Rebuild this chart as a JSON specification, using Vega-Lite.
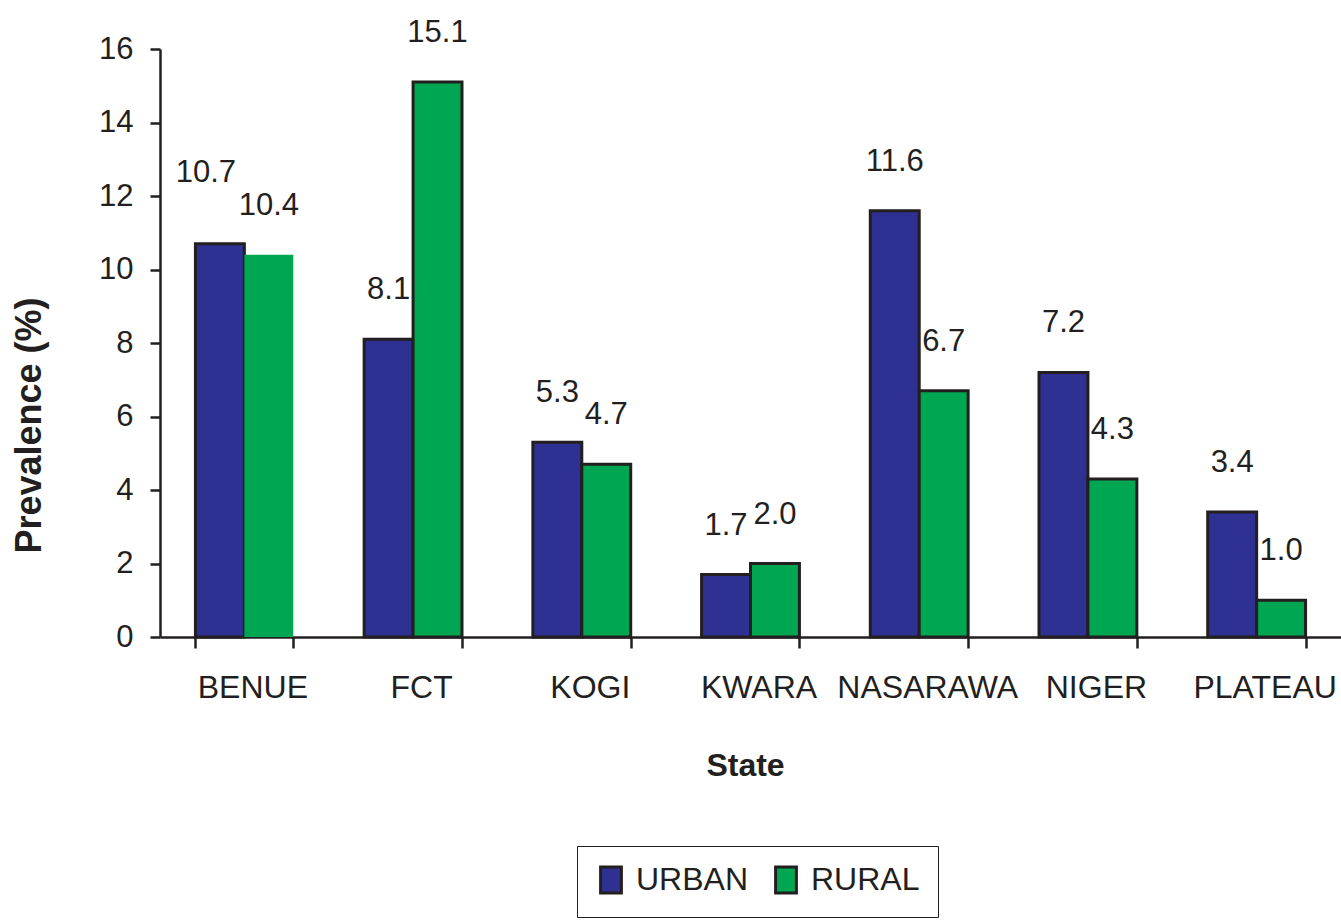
{
  "$schema": "https://vega.github.io/schema/vega-lite/v6.json",
  "width": 1181,
  "height": 588,
  "autosize": {"type": "none"},
  "padding": {"left": 160, "top": 49, "right": 0, "bottom": 283},
  "background": "white",
  "config": {
    "view": {"stroke": null},
    "axis": {"domainColor": "#231F20", "tickColor": "#231F20", "labelColor": "#231F20", "titleColor": "#231F20", "domainWidth": 2.5, "tickWidth": 2.5, "grid": false}
  },
  "data": {
    "values": [
      {"state": "BENUE", "area": "URBAN", "value": 10.7},
      {"state": "BENUE", "area": "RURAL", "value": 10.4},
      {"state": "FCT", "area": "URBAN", "value": 8.1},
      {"state": "FCT", "area": "RURAL", "value": 15.1},
      {"state": "KOGI", "area": "URBAN", "value": 5.3},
      {"state": "KOGI", "area": "RURAL", "value": 4.7},
      {"state": "KWARA", "area": "URBAN", "value": 1.7},
      {"state": "KWARA", "area": "RURAL", "value": 2.0},
      {"state": "NASARAWA", "area": "URBAN", "value": 11.6},
      {"state": "NASARAWA", "area": "RURAL", "value": 6.7},
      {"state": "NIGER", "area": "URBAN", "value": 7.2},
      {"state": "NIGER", "area": "RURAL", "value": 4.3},
      {"state": "PLATEAU", "area": "URBAN", "value": 3.4},
      {"state": "PLATEAU", "area": "RURAL", "value": 1.0}
    ]
  },
  "encoding": {
    "x": {
      "field": "state", "type": "nominal", "sort": null,
      "scale": {"paddingInner": 0.42, "paddingOuter": 0.21},
      "axis": {
        "title": "State", "labelAngle": 0, "tickBand": "extent", "tickSize": 11, "labelLimit": 0, "labelOffset": 8,
        "labelFont": "Liberation Sans", "labelFontSize": 32, "labelPadding": 24,
        "titleFont": "Liberation Sans", "titleFontSize": 32, "titleFontWeight": "bold",
        "titleY": 138, "titleBaseline": "alphabetic", "titleX": 585
      }
    },
    "xOffset": {"field": "area", "type": "nominal", "sort": ["URBAN", "RURAL"], "scale": {"paddingInner": 0, "paddingOuter": 0}},
    "y": {
      "field": "value", "type": "quantitative",
      "scale": {"domain": [0, 16], "nice": false},
      "axis": {
        "title": "Prevalence (%)", "values": [0, 2, 4, 6, 8, 10, 12, 14, 16], "tickSize": 10, "labelPadding": 17,
        "labelFont": "Liberation Sans", "labelFontSize": 31,
        "titleFont": "Liberation Sans", "titleFontSize": 36, "titleFontWeight": "bold",
        "titleX": -131, "titleY": 376, "titleBaseline": "middle", "titleAlign": "center", "titleAngle": -90
      }
    }
  },
  "layer": [
    {
      "mark": {"type": "bar", "stroke": "#231F20"},
      "encoding": {
        "color": {
          "field": "area", "type": "nominal", "sort": ["URBAN", "RURAL"],
          "scale": {"domain": ["URBAN", "RURAL"], "range": ["#2E3192", "#00A651"]},
          "legend": {
            "title": null, "orient": "none", "direction": "horizontal", "legendX": 417, "legendY": 797,
            "strokeColor": "#231F20", "padding": 18, "symbolType": "M-0.8,-1H0.8V1H-0.8Z", "symbolSize": 676,
            "symbolStrokeColor": "#231F20", "symbolStrokeWidth": 3, "symbolOpacity": 1,
            "labelFont": "Liberation Sans", "labelFontSize": 32, "labelColor": "#231F20",
            "labelOffset": 9, "columnPadding": 20
          }
        },
        "strokeWidth": {"condition": {"test": "datum.state === 'BENUE' && datum.area === 'RURAL'", "value": 0}, "value": 3}
      }
    },
    {
      "transform": [{"filter": "!(datum.state === 'BENUE' && datum.area === 'URBAN')"}],
      "mark": {"type": "text", "baseline": "alphabetic", "dy": -40, "font": "Liberation Sans", "fontSize": 31, "color": "#231F20"},
      "encoding": {"text": {"field": "value", "type": "quantitative", "format": ".1f"}}
    },
    {
      "transform": [{"filter": "datum.state === 'BENUE' && datum.area === 'URBAN'"}],
      "mark": {"type": "text", "baseline": "alphabetic", "dy": -62, "dx": -14, "font": "Liberation Sans", "fontSize": 31, "color": "#231F20"},
      "encoding": {"text": {"field": "value", "type": "quantitative", "format": ".1f"}}
    }
  ]
}
